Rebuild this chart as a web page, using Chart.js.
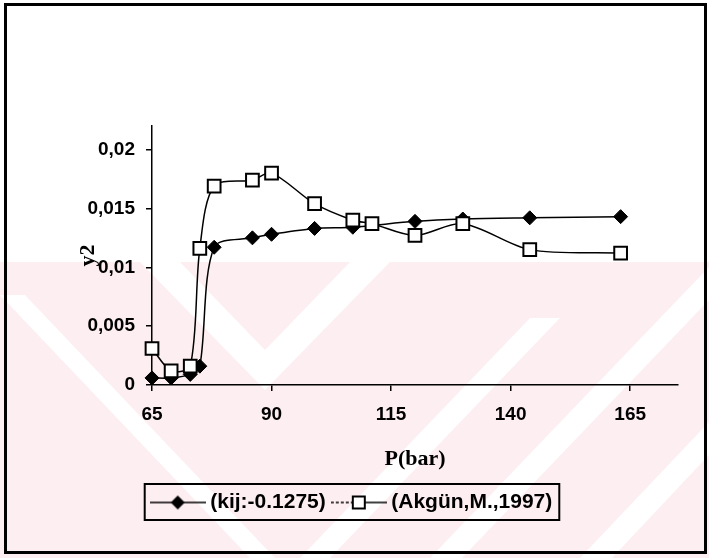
<!DOCTYPE html>
<html>
<head>
<meta charset="utf-8">
<script src="https://cdn.jsdelivr.net/npm/chart.js@4.4.1/dist/chart.umd.min.js"></script>
<style>
  html, body { margin: 0; padding: 0; background: #ffffff; }
  #wrap { position: relative; width: 709px; height: 558px; }
  canvas { display: block; }
</style>
</head>
<body>
<div id="wrap"><canvas id="c" width="709" height="558"></canvas></div>
<script>
// ---- data ----
const SERIES_NAMES = ['(kij:-0.1275)', '(Akgün,M.,1997)'];
const KIJ_P = [65, 69, 73, 75, 78, 86, 90, 99, 107, 120, 130, 144, 163];
const KIJ_Y = [0.0006, 0.0006, 0.0009, 0.0016, 0.0117, 0.0125, 0.0128, 0.0133, 0.0134, 0.0139, 0.0141, 0.0142, 0.0143];
const AKG_P = [65, 69, 73, 75, 78, 86, 90, 99, 107, 111, 120, 130, 144, 163];
const AKG_Y = [0.0031, 0.0012, 0.0016, 0.0116, 0.0169, 0.0174, 0.0180, 0.0154, 0.0140, 0.0137, 0.0127, 0.0137, 0.0115, 0.0112];
const X_TICKS = [65, 90, 115, 140, 165];
const X_TICK_LABELS = ['65', '90', '115', '140', '165'];
const Y_TICKS = [0, 0.005, 0.01, 0.015, 0.02];
const Y_TICK_LABELS = ['0', '0,005', '0,01', '0,015', '0,02'];
const X_TITLE = 'P(bar)';
const Y_TITLE = 'y2';

const toPts = (xs, ys) => xs.map((x, i) => ({ x: x, y: ys[i] }));

// legend symbols (line-marker-line)
function makeSymbol(kind) {
  const c = document.createElement('canvas');
  c.width = 56; c.height = 18;
  const g = c.getContext('2d');
  g.strokeStyle = '#000'; g.lineWidth = 1.5;
  if (kind === 'diamond') {
    g.beginPath(); g.moveTo(0, 9); g.lineTo(56, 9); g.stroke();
    g.fillStyle = '#000';
    g.beginPath(); g.moveTo(28, 2); g.lineTo(35, 9); g.lineTo(28, 16); g.lineTo(21, 9); g.closePath(); g.fill();
  } else {
    g.setLineDash([3, 2]);
    g.beginPath(); g.moveTo(0, 9); g.lineTo(22, 9); g.stroke();
    g.setLineDash([]);
    g.beginPath(); g.moveTo(34, 9); g.lineTo(56, 9); g.stroke();
    g.fillStyle = '#fff'; g.lineWidth = 2;
    g.fillRect(22, 3, 12, 12); g.strokeRect(22, 3, 12, 12);
  }
  return c;
}
const SYMBOLS = [makeSymbol('diamond'), makeSymbol('square')];

const framePlugin = {
  id: 'frame',
  beforeDraw(chart) {
    const ctx = chart.ctx;
    ctx.save();
    // faint watermark-like pink band
    ctx.fillStyle = '#fdeef1';
    ctx.fillRect(0, 262, 709, 296);
    ctx.fillStyle = '#ffffff';
    const bands = [
      [[0, 295], [25, 295], [275, 558], [250, 558]],
      [[140, 262], [180, 262], [265, 350], [350, 262], [390, 262], [265, 390]],
      [[430, 558], [462, 558], [709, 300], [709, 267]],
      [[300, 558], [330, 558], [560, 318], [530, 318]],
      [[580, 558], [612, 558], [709, 455], [709, 422]]
    ];
    bands.forEach(b => {
      ctx.beginPath();
      ctx.moveTo(b[0][0], b[0][1]);
      for (let i = 1; i < b.length; i++) ctx.lineTo(b[i][0], b[i][1]);
      ctx.closePath(); ctx.fill();
    });
    ctx.restore();
  },
  afterDraw(chart) {
    const ctx = chart.ctx;
    ctx.save();
    ctx.strokeStyle = '#000';
    // legend border
    const hb = chart.legend.legendHitBoxes;
    if (hb && hb.length) {
      const l = Math.min(...hb.map(h => h.left)) - 11;
      const r = Math.max(...hb.map(h => h.left + h.width)) + 7;
      const t = Math.min(...hb.map(h => h.top)) - 8;
      const b = Math.max(...hb.map(h => h.top + h.height)) + 7;
      ctx.lineWidth = 2;
      ctx.strokeRect(l, t, r - l, b - t);
    }
    // outer frame
    ctx.lineWidth = 3;
    ctx.strokeRect(5.5, 4.5, 700, 548);
    ctx.restore();
  }
};

const FONT_TICK = { family: '"Liberation Sans", Arial, sans-serif', size: 19, weight: 'bold' };
const FONT_TITLE = { family: '"Liberation Serif", "Times New Roman", serif', size: 22, weight: 'bold' };

new Chart(document.getElementById('c'), {
  type: 'line',
  data: {
    datasets: [
      {
        label: SERIES_NAMES[0],
        data: toPts(KIJ_P, KIJ_Y),
        borderColor: '#000', borderWidth: 1.5,
        backgroundColor: '#000',
        pointStyle: 'rectRot', pointRadius: 7, pointHoverRadius: 7,
        pointBackgroundColor: '#000', pointBorderColor: '#000', pointBorderWidth: 1,
        tension: 0.3, fill: false, order: 1, clip: false
      },
      {
        label: SERIES_NAMES[1],
        data: toPts(AKG_P, AKG_Y),
        borderColor: '#000', borderWidth: 1.5,
        backgroundColor: '#fff',
        pointStyle: 'rect', pointRadius: 9, pointHoverRadius: 9,
        pointBackgroundColor: '#fff', pointBorderColor: '#000', pointBorderWidth: 2,
        tension: 0.3, fill: false, order: 0, clip: false
      }
    ]
  },
  options: {
    responsive: false,
    animation: false,
    layout: { padding: { top: 126, left: 30, right: 31, bottom: 35 } },
    plugins: {
      tooltip: { enabled: false },
      legend: {
        position: 'bottom',
        labels: {
          usePointStyle: true,
          pointStyleWidth: 44,
          boxHeight: 21,
          padding: 11,
          color: '#000',
          font: { family: '"Liberation Sans", Arial, sans-serif', size: 21, weight: 'bold' },
          generateLabels: (chart) => chart.data.datasets.map((ds, i) => ({
            text: ds.label,
            pointStyle: SYMBOLS[i],
            fillStyle: '#000', strokeStyle: '#000', lineWidth: 0,
            hidden: false, datasetIndex: i, fontColor: '#000'
          }))
        }
      }
    },
    scales: {
      x: {
        type: 'linear',
        min: 65, max: 175,
        afterBuildTicks: s => { s.ticks = X_TICKS.map(v => ({ value: v })); },
        afterFit: s => { s.height = 96; },
        ticks: {
          color: '#000', font: FONT_TICK, padding: 12, maxRotation: 0,
          callback: (v) => { const i = X_TICKS.indexOf(v); return i >= 0 ? X_TICK_LABELS[i] : ''; }
        },
        grid: { drawOnChartArea: false, drawTicks: true, tickLength: 6, color: '#000', lineWidth: 1.5 },
        border: { display: true, color: '#000', width: 1.5 },
        title: { display: true, text: X_TITLE, color: '#000', font: FONT_TITLE, padding: { top: 0, bottom: 8 } }
      },
      y: {
        type: 'linear',
        min: 0, max: 0.022,
        afterBuildTicks: s => { s.ticks = Y_TICKS.map(v => ({ value: v })); },
        afterFit: s => { s.width = 122; },
        ticks: {
          color: '#000', font: FONT_TICK, padding: 11,
          callback: (v) => { const i = Y_TICKS.indexOf(v); return i >= 0 ? Y_TICK_LABELS[i] : ''; }
        },
        grid: { drawOnChartArea: false, drawTicks: true, tickLength: 6, color: '#000', lineWidth: 1.5 },
        border: { display: true, color: '#000', width: 1.5 },
        title: { display: true, text: Y_TITLE, color: '#000', font: FONT_TITLE, padding: { top: 45, bottom: 0 } }
      }
    }
  },
  plugins: [framePlugin]
});
</script>
</body>
</html>
